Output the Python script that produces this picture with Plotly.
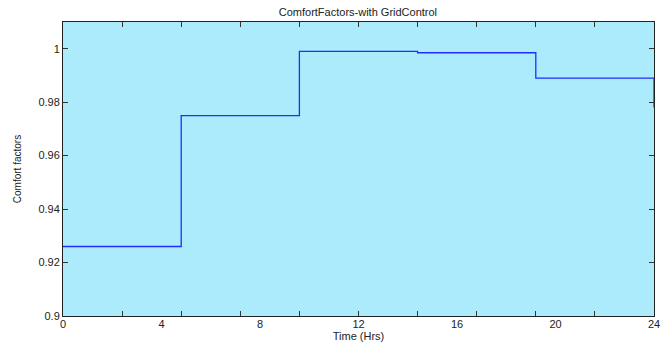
import plotly.graph_objects as go

# Data
hours = [0, 4.8, 9.6, 14.4, 19.2, 24]
comfort = [0.926, 0.975, 0.999, 0.9985, 0.989, 0.978]
x_minor_ticks = [0, 2.4, 4.8, 7.2, 9.6, 12, 14.4, 16.8, 19.2, 21.6, 24]
x_labels = [0, 4, 8, 12, 16, 20, 24]
y_ticks = [0.9, 0.92, 0.94, 0.96, 0.98, 1.0]
y_ticktext = ["0.9", "0.92", "0.94", "0.96", "0.98", "1"]

font = "Liberation Sans, Arial, sans-serif"

fig = go.Figure()
fig.add_trace(go.Scatter(x=hours, y=comfort, mode="lines", line_shape="hv",
                         line=dict(color="#1f2dff", width=1.3),
                         showlegend=False, xaxis="x", yaxis="y"))
# invisible trace to activate x2
fig.add_trace(go.Scatter(x=[0, 24], y=[None, None], mode="lines",
                         showlegend=False, xaxis="x2", yaxis="y", hoverinfo="skip"))

fig.update_layout(
    width=669, height=345,
    margin=dict(l=63, r=15, t=22, b=29),
    paper_bgcolor="white",
    plot_bgcolor="#acebfc",
    font=dict(family=font, size=11, color="#222"),
    title=dict(text="ComfortFactors-with GridControl", x=0.535, xanchor="center",
               y=0.966, yanchor="middle", font=dict(size=11, color="#222")),
    xaxis=dict(range=[0, 24], tickmode="array", tickvals=x_minor_ticks,
               showticklabels=False, ticks="inside", ticklen=5, tickcolor="#333",
               showline=True, linecolor="#222", linewidth=1, mirror="ticks",
               showgrid=False, zeroline=False, automargin=False),
    xaxis2=dict(range=[0, 24], overlaying="x", side="bottom", tickmode="array",
                tickvals=x_labels, ticktext=[str(v) for v in x_labels],
                ticks="", showline=False, showgrid=False, zeroline=False,
                tickfont=dict(size=11), automargin=False, ticklabelstandoff=0,
                title=dict(text="Time (Hrs)", standoff=0, font=dict(size=11))),
    yaxis=dict(range=[0.9, 1.01], tickmode="array", tickvals=y_ticks, ticktext=y_ticktext,
               ticks="inside", ticklen=5, tickcolor="#333",
               showline=True, linecolor="#222", linewidth=1, mirror="ticks",
               showgrid=False, zeroline=False, automargin=False,
               title=dict(text="Comfort factors", standoff=14,
                          font=dict(size=10, family="Liberation Sans Narrow, Arial Narrow, " + font))),
)

fig.write_html("out.html", config={"displayModeBar": False},
               post_script="document.body.style.margin='0';document.body.style.overflow='hidden';")
